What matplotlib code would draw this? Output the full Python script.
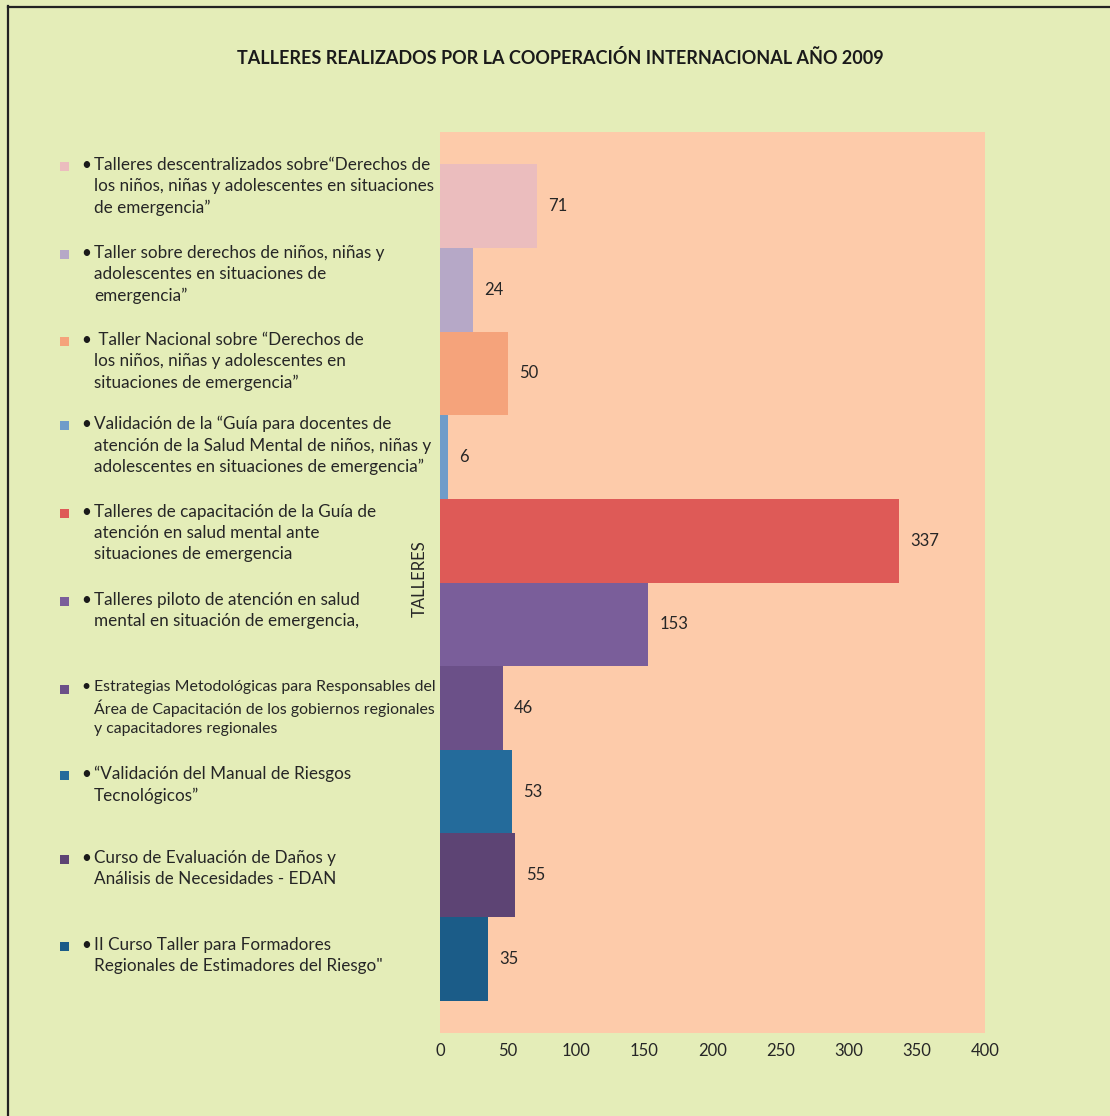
import matplotlib
matplotlib.use("Agg")
import matplotlib.pyplot as plt
from matplotlib.lines import Line2D
from matplotlib.patches import Rectangle

plt.rcParams['font.family'] = ['Lato', 'DejaVu Sans']

title = "TALLERES REALIZADOS POR LA COOPERACIÓN INTERNACIONAL AÑO 2009"
categories = [
    "Talleres descentralizados sobre\u201cDerechos de\nlos niños, niñas y adolescentes en situaciones\nde emergencia\u201d",
    "Taller sobre derechos de niños, niñas y\nadolescentes en situaciones de\nemergencia\u201d",
    " Taller Nacional sobre \u201cDerechos de\nlos niños, niñas y adolescentes en\nsituaciones de emergencia\u201d",
    "Validación de la \u201cGuía para docentes de\natención de la Salud Mental de niños, niñas y\nadolescentes en situaciones de emergencia\u201d",
    "Talleres de capacitación de la Guía de\natención en salud mental ante\nsituaciones de emergencia",
    "Talleres piloto de atención en salud\nmental en situación de emergencia,",
    "Estrategias Metodológicas para Responsables del\nÁrea de Capacitación de los gobiernos regionales\ny capacitadores regionales",
    "\u201cValidación del Manual de Riesgos\nTecnológicos\u201d",
    "Curso de Evaluación de Daños y\nAnálisis de Necesidades - EDAN",
    "II Curso Taller para Formadores\nRegionales de Estimadores del Riesgo\"",
]
values = [71, 24, 50, 6, 337, 153, 46, 53, 55, 35]
colors = ["#EBBDBE", "#B6A8C7", "#F5A37B", "#6F9CC9", "#DE5A57",
          "#7A5E9A", "#6B5088", "#246B9B", "#5D4474", "#1B5C88"]
xticks = [0, 50, 100, 150, 200, 250, 300, 350, 400]
y_label = "TALLERES"

W, H = 1110, 1116
fig = plt.figure(figsize=(W / 100, H / 100), dpi=100, facecolor="#E4EDB8")

# plot area in pixel coordinates
px_l, px_r, px_t, px_b = 440, 985, 132, 1033
ax = fig.add_axes([px_l / W, 1 - px_b / H, (px_r - px_l) / W, (px_b - px_t) / H])
ax.set_facecolor("#FDCBAA")

pos = list(range(len(values)))
ax.barh(pos, values, height=1.0, color=colors, edgecolor="none")
ax.set_ylim(len(values) - 0.5 + 0.385, -0.5 - 0.385)
ax.set_xlim(0, 400)
ax.set_xticks(xticks)
ax.set_xticklabels([str(t) for t in xticks], fontsize=12, color="#262626")
ax.set_yticks([])
ax.tick_params(axis="x", length=0, pad=7)
for s in ax.spines.values():
    s.set_visible(False)

for p, v in zip(pos, values):
    ax.annotate(str(v), (v, p), xytext=(8, 0), textcoords="offset points",
                va="center", ha="left", fontsize=12, color="#262626")

fig.text(420 / W, 1 - 579 / H, y_label, rotation=90, ha="center", va="center",
         fontsize=12, color="#262626")

fig.text(560 / W, 1 - 58 / H, title, ha="center", va="center",
         fontsize=13, fontweight="bold", color="#1a1a1a")

# category key on the left
entry_y = [166, 254, 341, 425, 513, 601, 689, 775, 859, 946]
for i, (lab, c, yy) in enumerate(zip(categories, colors, entry_y)):
    fs = 11.4 if i == 6 else 12.3
    fig.patches.append(Rectangle(((60) / W, 1 - (yy + 5) / H), 9 / W, 9 / H,
                                 transform=fig.transFigure, facecolor=c,
                                 edgecolor="none"))
    top = 1 - (yy - 9) / H
    fig.text(81 / W, top, "\u2022", ha="left", va="top",
             fontsize=fs, color="#1a1a1a")
    fig.text(94 / W, top, lab, ha="left", va="top",
             fontsize=fs, color="#262626", linespacing=1.4)

# outer frame (left and top edges)
fig.add_artist(Line2D([7.5 / W, 7.5 / W], [0, 1 - 6 / H], transform=fig.transFigure,
                      color="#222222", lw=1.6))
fig.add_artist(Line2D([7.5 / W, 1], [1 - 6.5 / H, 1 - 6.5 / H], transform=fig.transFigure,
                      color="#222222", lw=1.6))

fig.savefig("out.png", dpi=100, facecolor=fig.get_facecolor())
